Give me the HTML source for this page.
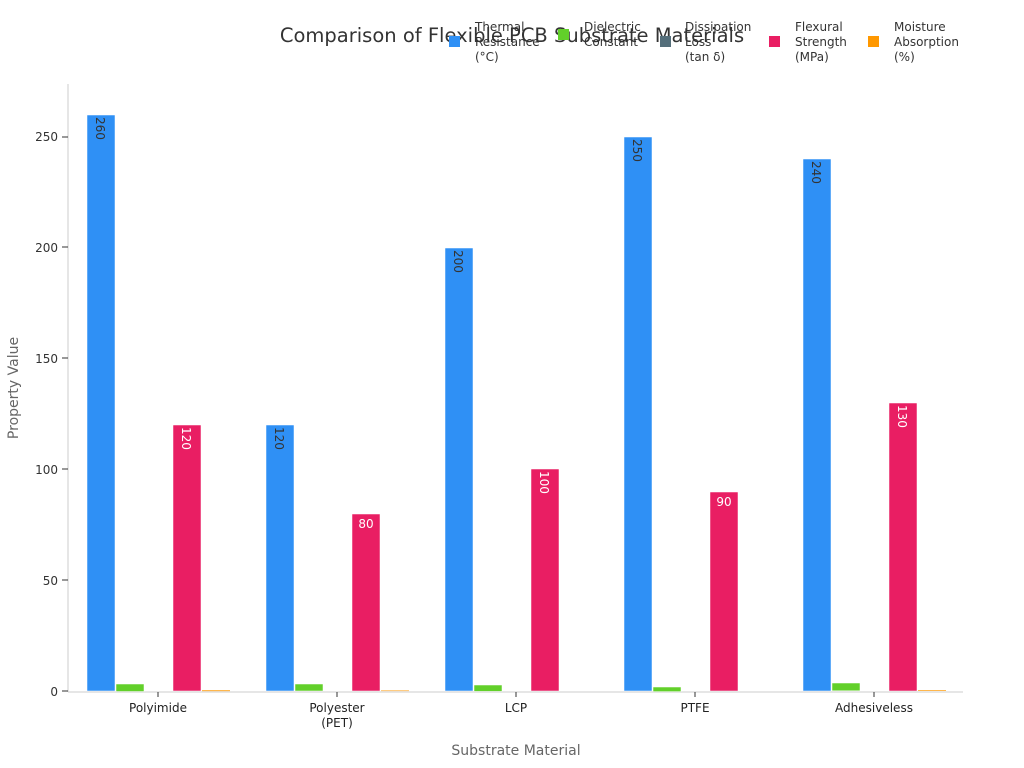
<!DOCTYPE html>
<html><head><meta charset="utf-8"><style>body{margin:0;background:#fff}svg{display:block;font-family:"DejaVu Sans","Liberation Sans",sans-serif}</style></head><body>
<svg width="1024" height="768" viewBox="0 0 1024 768">
<text x="512" y="42" text-anchor="middle" font-size="19.5" fill="#333">Comparison of Flexible PCB Substrate Materials</text>
<g font-size="12" fill="#333">
<rect x="449" y="36" width="11" height="11" fill="#2f90f5"/><text x="475" y="31">Thermal</text><text x="475" y="46">Resistance</text><text x="475" y="61">(°C)</text>
<rect x="558" y="29" width="11" height="11" fill="#62d02a"/><text x="584" y="31">Dielectric</text><text x="584" y="46">Constant</text>
<rect x="660" y="36" width="11" height="11" fill="#546e7a"/><text x="685" y="31">Dissipation</text><text x="685" y="46">Loss</text><text x="685" y="61">(tan δ)</text>
<rect x="769" y="36" width="11" height="11" fill="#e91e63"/><text x="795" y="31">Flexural</text><text x="795" y="46">Strength</text><text x="795" y="61">(MPa)</text>
<rect x="868" y="36" width="11" height="11" fill="#ff9800"/><text x="894" y="31">Moisture</text><text x="894" y="46">Absorption</text><text x="894" y="61">(%)</text>
</g>
<line x1="68" y1="84" x2="68" y2="692" stroke="#ccc"/>
<line x1="68" y1="692" x2="963" y2="692" stroke="#ccc"/>
<g font-size="12" fill="#333" text-anchor="end">
<text x="58" y="696">0</text><text x="58" y="585">50</text><text x="58" y="474">100</text><text x="58" y="363">150</text><text x="58" y="252">200</text><text x="58" y="141">250</text>
</g>
<g stroke="#333"><line x1="62" y1="691" x2="68" y2="691"/><line x1="62" y1="580" x2="68" y2="580"/><line x1="62" y1="469" x2="68" y2="469"/><line x1="62" y1="358" x2="68" y2="358"/><line x1="62" y1="247" x2="68" y2="247"/><line x1="62" y1="137" x2="68" y2="137"/>
<line x1="158" y1="692" x2="158" y2="697"/><line x1="337" y1="692" x2="337" y2="697"/><line x1="516" y1="692" x2="516" y2="697"/><line x1="695" y1="692" x2="695" y2="697"/><line x1="874" y1="692" x2="874" y2="697"/></g>
<text transform="translate(18,388) rotate(-90)" text-anchor="middle" font-size="14" fill="#666">Property Value</text>
<text x="516" y="755" text-anchor="middle" font-size="14" fill="#666">Substrate Material</text>
<g font-size="12" fill="#222" text-anchor="middle">
<text x="158" y="712">Polyimide</text><text x="337" y="712">Polyester</text><text x="337" y="727">(PET)</text><text x="516" y="712">LCP</text><text x="695" y="712">PTFE</text><text x="874" y="712">Adhesiveless</text>
</g>
<g stroke="#fff" stroke-width="0.5">
<rect x="87" y="115" width="28" height="576" fill="#2f90f5"/>
<rect x="266" y="425" width="28" height="266" fill="#2f90f5"/>
<rect x="445" y="248" width="28" height="443" fill="#2f90f5"/>
<rect x="624" y="137" width="28" height="554" fill="#2f90f5"/>
<rect x="803" y="159" width="28" height="532" fill="#2f90f5"/>
<rect x="116" y="684" width="28" height="7.5" fill="#62d02a"/>
<rect x="295" y="684" width="28" height="7" fill="#62d02a"/>
<rect x="474" y="685" width="28" height="6.4" fill="#62d02a"/>
<rect x="653" y="687" width="28" height="4.6" fill="#62d02a"/>
<rect x="832" y="683" width="28" height="7.8" fill="#62d02a"/>
<rect x="173" y="425" width="28" height="266" fill="#e91e63"/>
<rect x="352" y="514" width="28" height="177" fill="#e91e63"/>
<rect x="531" y="469" width="28" height="222" fill="#e91e63"/>
<rect x="710" y="492" width="28" height="199" fill="#e91e63"/>
<rect x="889" y="403" width="28" height="288" fill="#e91e63"/>
</g>
<g fill="#ffb74d"><rect x="202" y="690" width="28" height="1.2"/><rect x="381" y="690.3" width="28" height="0.8"/><rect x="918" y="690" width="28" height="1"/></g>
<g font-size="12" fill="#333">
<text transform="translate(96,117) rotate(90)">260</text>
<text transform="translate(275,427) rotate(90)">120</text>
<text transform="translate(454,250) rotate(90)">200</text>
<text transform="translate(633,139) rotate(90)">250</text>
<text transform="translate(812,161) rotate(90)">240</text>
</g>
<g font-size="12" fill="#fff">
<text transform="translate(182,427) rotate(90)">120</text>
<text x="366" y="528" text-anchor="middle">80</text>
<text transform="translate(540,471) rotate(90)">100</text>
<text x="724" y="506" text-anchor="middle">90</text>
<text transform="translate(898,405) rotate(90)">130</text>
</g>
</svg>
</body></html>
